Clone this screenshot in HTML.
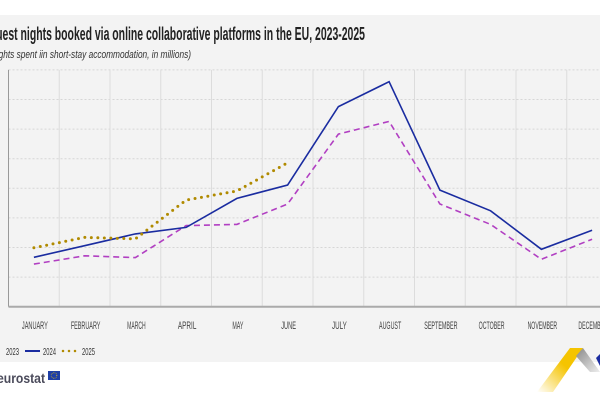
<!DOCTYPE html>
<html><head><meta charset="utf-8"><style>
html,body{margin:0;padding:0;width:600px;height:400px;overflow:hidden;background:#fff;font-family:"Liberation Sans Narrow","Liberation Sans",sans-serif;}
</style></head><body>
<svg id="chart" width="600" height="400" xmlns="http://www.w3.org/2000/svg">
<defs>
<linearGradient id="yg" x1="0" y1="1" x2="1" y2="0"><stop offset="0" stop-color="#fff"/><stop offset="0.6" stop-color="#f5c400"/></linearGradient>
<linearGradient id="gg" x1="0" y1="0" x2="1" y2="1"><stop offset="0" stop-color="#888"/><stop offset="1" stop-color="#eee"/></linearGradient>
</defs>
<rect x="0" y="15" width="600" height="347" fill="#f3f3f3"/>
<text x="-12" y="40" font-size="18" font-weight="bold" fill="#222" textLength="377" lengthAdjust="spacingAndGlyphs">Guest nights booked via online collaborative platforms in the EU, 2023-2025</text>
<text x="-12" y="58" font-size="11" font-style="italic" fill="#333" textLength="203" lengthAdjust="spacingAndGlyphs">(Nights spent iin short-stay accommodation, in millions)</text>
<g id="grid"></g>
<g id="xlabels"></g>
<g id="series"></g>
<g>
<line x1="-5" y1="351" x2="1" y2="351" stroke="#b13fc2" stroke-width="2" stroke-dasharray="5,3"/>
<text x="6" y="355" font-size="10.5" fill="#333" textLength="13" lengthAdjust="spacingAndGlyphs">2023</text>
<line x1="25" y1="351" x2="40" y2="351" stroke="#1a2ca0" stroke-width="2"/>
<text x="43" y="355" font-size="10.5" fill="#333" textLength="13" lengthAdjust="spacingAndGlyphs">2024</text>
<line x1="63" y1="351" x2="78" y2="351" stroke="#b08a00" stroke-width="2.5" stroke-linecap="round" stroke-dasharray="0,6"/>
<text x="82" y="355" font-size="10.5" fill="#333" textLength="13" lengthAdjust="spacingAndGlyphs">2025</text>
</g>
<text x="-3" y="383" font-family="Liberation Sans,sans-serif" font-size="14" font-weight="bold" fill="#4a4a5a" textLength="48" lengthAdjust="spacingAndGlyphs">eurostat</text>
<rect x="48" y="371" width="12" height="9" fill="#1f3fa6"/>
<circle cx="54" cy="375.5" r="2.8" fill="none" stroke="#f5c400" stroke-width="0.8" stroke-dasharray="0.6,0.9"/>
<g>
<polygon points="537,392 570,348 583,348 553,392" fill="url(#yg)"/>
<polygon points="583,348 600,372 590,372 576,356" fill="url(#gg)"/>
<polygon points="596,358 600,354 600,366" fill="#1a2ca0"/>
</g>
</svg>
<script>
const months = ["JANUARY","FEBRUARY","MARCH","APRIL","MAY","JUNE","JULY","AUGUST","SEPTEMBER","OCTOBER","NOVEMBER","DECEMBER"];
const values2023 = [14.4,17.2,16.6,27.4,27.8,34.7,58.3,62.6,34.7,27.8,16.0,22.8];
const values2024 = [16.7,20.6,24.6,26.8,36.6,41.1,67.6,76.0,39.4,32.4,19.4,25.8];
const values2025 = [19.9,23.4,22.9,36.0,39.1,48.6];
const yTicks = [0,10,20,30,40,50,60,70,80];

const NS="http://www.w3.org/2000/svg";
const x0=8.5, band=50.75, yBase=306.7, pxPerUnit=2.96;
function xPos(i){return x0+band*(i+0.5);}
function yPos(v){return yBase-v*pxPerUnit;}
function mk(tag,attrs,parent){const e=document.createElementNS(NS,tag);for(const k in attrs)e.setAttribute(k,attrs[k]);parent.appendChild(e);return e;}
const grid=document.getElementById('grid');
yTicks.forEach(t=>{
  if(t===0)return;
  const l=mk('line',{x1:x0,x2:600,y1:yPos(t),y2:yPos(t),stroke:'#d6d6d6','stroke-width':1,'stroke-dasharray':'2,2'},grid);
  
  
});
for(let i=1;i<=12;i++){
  const l=mk('line',{x1:x0+band*i,x2:x0+band*i,y1:yPos(80),y2:yBase,stroke:'#dcdcdc','stroke-width':1},grid);
  
  
}
const ax=mk('line',{x1:x0,x2:x0,y1:yPos(80),y2:yBase,stroke:'#999','stroke-width':1},grid);


const bx=mk('line',{x1:x0,x2:600,y1:yBase,y2:yBase,stroke:'#aaa','stroke-width':2},grid);


const xl=document.getElementById('xlabels');
months.forEach((m,i)=>{
  const t=mk('text',{x:xPos(i)+1,y:329,'font-size':11,fill:'#444','text-anchor':'middle',textLength:(m.length*3.7).toFixed(1),lengthAdjust:'spacingAndGlyphs'},xl);
  t.textContent=m;
  
  
});
const sg=document.getElementById('series');
function line(vals,attrs,name){
  const pts=vals.map((v,i)=>xPos(i).toFixed(1)+','+yPos(v).toFixed(1)).join(' ');
  const p=mk('polyline',Object.assign({points:pts,fill:'none'},attrs),sg);
  
  
}
line(values2023,{stroke:'#b13fc2','stroke-width':1.6,'stroke-dasharray':'6,4'},'series-2023');
line(values2024,{stroke:'#1a2ca0','stroke-width':1.6},'series-2024');
line(values2025,{stroke:'#b08a00','stroke-width':3,'stroke-linecap':'round','stroke-dasharray':'0,6.5'},'series-2025');
</script>
</body></html>
